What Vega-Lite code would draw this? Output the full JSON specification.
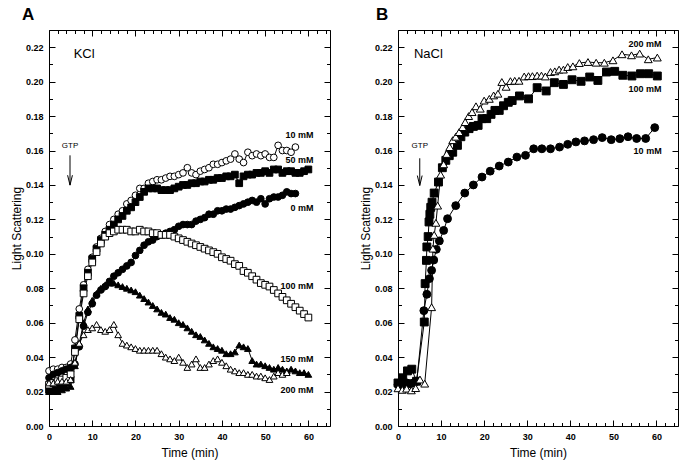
{
  "$schema": "https://vega.github.io/schema/vega-lite/v6.json",
  "background": "white",
  "padding": {"left": 9, "top": 5, "right": 5, "bottom": 5},
  "spacing": 68,
  "bounds": "flush",
  "resolve": {"scale": {"shape": "independent", "fill": "independent"}},
  "config": {
    "font": "Liberation Sans",
    "view": {"stroke": "black", "strokeWidth": 1},
    "axis": {
      "labelFont": "Liberation Sans", "labelFontSize": 9, "labelFontWeight": "bold", "labelColor": "black",
      "tickColor": "black", "tickWidth": 1, "domain": false, "grid": false,
      "titleFont": "Liberation Sans", "titleFontSize": 12, "titleFontWeight": "normal", "titleColor": "black",
      "labelFlush": false, "labelOverlap": false
    }
  },
  "datasets": {
    "kcl": [
      {"c":"10 mM","t":0,"v":0.032},{"c":"10 mM","t":1,"v":0.033},{"c":"10 mM","t":2,"v":0.033},{"c":"10 mM","t":3,"v":0.034},{"c":"10 mM","t":4,"v":0.034},{"c":"10 mM","t":5,"v":0.036},{"c":"10 mM","t":6,"v":0.050},{"c":"10 mM","t":7,"v":0.068},{"c":"10 mM","t":8,"v":0.082},{"c":"10 mM","t":9,"v":0.091},{"c":"10 mM","t":10,"v":0.098},{"c":"10 mM","t":11,"v":0.104},{"c":"10 mM","t":12,"v":0.109},{"c":"10 mM","t":13,"v":0.113},{"c":"10 mM","t":14,"v":0.117},{"c":"10 mM","t":15,"v":0.120},{"c":"10 mM","t":16,"v":0.123},{"c":"10 mM","t":17,"v":0.125},{"c":"10 mM","t":18,"v":0.129},{"c":"10 mM","t":19,"v":0.131},{"c":"10 mM","t":20,"v":0.134},{"c":"10 mM","t":21,"v":0.138},{"c":"10 mM","t":22,"v":0.138},{"c":"10 mM","t":23,"v":0.141},{"c":"10 mM","t":24,"v":0.142},{"c":"10 mM","t":25,"v":0.143},{"c":"10 mM","t":26,"v":0.143},{"c":"10 mM","t":27,"v":0.144},{"c":"10 mM","t":28,"v":0.145},{"c":"10 mM","t":29,"v":0.145},{"c":"10 mM","t":30,"v":0.146},{"c":"10 mM","t":31,"v":0.147},{"c":"10 mM","t":32,"v":0.150},{"c":"10 mM","t":33,"v":0.147},{"c":"10 mM","t":34,"v":0.146},{"c":"10 mM","t":35,"v":0.148},{"c":"10 mM","t":36,"v":0.149},{"c":"10 mM","t":37,"v":0.150},{"c":"10 mM","t":38,"v":0.152},{"c":"10 mM","t":39,"v":0.152},{"c":"10 mM","t":40,"v":0.153},{"c":"10 mM","t":41,"v":0.154},{"c":"10 mM","t":42,"v":0.155},{"c":"10 mM","t":43,"v":0.158},{"c":"10 mM","t":44,"v":0.155},{"c":"10 mM","t":45,"v":0.153},{"c":"10 mM","t":46,"v":0.159},{"c":"10 mM","t":47,"v":0.157},{"c":"10 mM","t":48,"v":0.158},{"c":"10 mM","t":49,"v":0.157},{"c":"10 mM","t":50,"v":0.158},{"c":"10 mM","t":51,"v":0.156},{"c":"10 mM","t":52,"v":0.156},{"c":"10 mM","t":53,"v":0.163},{"c":"10 mM","t":54,"v":0.160},{"c":"10 mM","t":55,"v":0.160},{"c":"10 mM","t":56,"v":0.159},{"c":"10 mM","t":57,"v":0.162},
      {"c":"50 mM","t":0,"v":0.021},{"c":"50 mM","t":1,"v":0.021},{"c":"50 mM","t":2,"v":0.022},{"c":"50 mM","t":3,"v":0.023},{"c":"50 mM","t":4,"v":0.025},{"c":"50 mM","t":5,"v":0.027},{"c":"50 mM","t":6,"v":0.045},{"c":"50 mM","t":7,"v":0.064},{"c":"50 mM","t":8,"v":0.080},{"c":"50 mM","t":9,"v":0.089},{"c":"50 mM","t":10,"v":0.097},{"c":"50 mM","t":11,"v":0.103},{"c":"50 mM","t":12,"v":0.108},{"c":"50 mM","t":13,"v":0.111},{"c":"50 mM","t":14,"v":0.114},{"c":"50 mM","t":15,"v":0.117},{"c":"50 mM","t":16,"v":0.120},{"c":"50 mM","t":17,"v":0.122},{"c":"50 mM","t":18,"v":0.125},{"c":"50 mM","t":19,"v":0.127},{"c":"50 mM","t":20,"v":0.130},{"c":"50 mM","t":21,"v":0.133},{"c":"50 mM","t":22,"v":0.136},{"c":"50 mM","t":23,"v":0.138},{"c":"50 mM","t":24,"v":0.138},{"c":"50 mM","t":25,"v":0.138},{"c":"50 mM","t":26,"v":0.137},{"c":"50 mM","t":27,"v":0.137},{"c":"50 mM","t":28,"v":0.137},{"c":"50 mM","t":29,"v":0.138},{"c":"50 mM","t":30,"v":0.139},{"c":"50 mM","t":31,"v":0.140},{"c":"50 mM","t":32,"v":0.140},{"c":"50 mM","t":33,"v":0.141},{"c":"50 mM","t":34,"v":0.141},{"c":"50 mM","t":35,"v":0.142},{"c":"50 mM","t":36,"v":0.142},{"c":"50 mM","t":37,"v":0.143},{"c":"50 mM","t":38,"v":0.143},{"c":"50 mM","t":39,"v":0.144},{"c":"50 mM","t":40,"v":0.144},{"c":"50 mM","t":41,"v":0.145},{"c":"50 mM","t":42,"v":0.145},{"c":"50 mM","t":43,"v":0.146},{"c":"50 mM","t":44,"v":0.141},{"c":"50 mM","t":45,"v":0.145},{"c":"50 mM","t":46,"v":0.146},{"c":"50 mM","t":47,"v":0.146},{"c":"50 mM","t":48,"v":0.147},{"c":"50 mM","t":49,"v":0.147},{"c":"50 mM","t":50,"v":0.148},{"c":"50 mM","t":51,"v":0.147},{"c":"50 mM","t":52,"v":0.149},{"c":"50 mM","t":53,"v":0.149},{"c":"50 mM","t":54,"v":0.147},{"c":"50 mM","t":55,"v":0.148},{"c":"50 mM","t":56,"v":0.148},{"c":"50 mM","t":57,"v":0.147},{"c":"50 mM","t":58,"v":0.147},{"c":"50 mM","t":59,"v":0.148},{"c":"50 mM","t":60,"v":0.149},
      {"c":"0 mM","t":0,"v":0.028},{"c":"0 mM","t":1,"v":0.030},{"c":"0 mM","t":2,"v":0.031},{"c":"0 mM","t":3,"v":0.032},{"c":"0 mM","t":4,"v":0.033},{"c":"0 mM","t":5,"v":0.034},{"c":"0 mM","t":6,"v":0.036},{"c":"0 mM","t":7,"v":0.046},{"c":"0 mM","t":8,"v":0.058},{"c":"0 mM","t":9,"v":0.066},{"c":"0 mM","t":10,"v":0.071},{"c":"0 mM","t":11,"v":0.076},{"c":"0 mM","t":12,"v":0.079},{"c":"0 mM","t":13,"v":0.081},{"c":"0 mM","t":14,"v":0.084},{"c":"0 mM","t":15,"v":0.087},{"c":"0 mM","t":16,"v":0.089},{"c":"0 mM","t":17,"v":0.091},{"c":"0 mM","t":18,"v":0.093},{"c":"0 mM","t":19,"v":0.095},{"c":"0 mM","t":20,"v":0.099},{"c":"0 mM","t":21,"v":0.102},{"c":"0 mM","t":22,"v":0.105},{"c":"0 mM","t":23,"v":0.107},{"c":"0 mM","t":24,"v":0.108},{"c":"0 mM","t":25,"v":0.110},{"c":"0 mM","t":26,"v":0.111},{"c":"0 mM","t":27,"v":0.112},{"c":"0 mM","t":28,"v":0.113},{"c":"0 mM","t":29,"v":0.114},{"c":"0 mM","t":30,"v":0.116},{"c":"0 mM","t":31,"v":0.117},{"c":"0 mM","t":32,"v":0.117},{"c":"0 mM","t":33,"v":0.117},{"c":"0 mM","t":34,"v":0.119},{"c":"0 mM","t":35,"v":0.120},{"c":"0 mM","t":36,"v":0.121},{"c":"0 mM","t":37,"v":0.123},{"c":"0 mM","t":38,"v":0.123},{"c":"0 mM","t":39,"v":0.125},{"c":"0 mM","t":40,"v":0.125},{"c":"0 mM","t":41,"v":0.126},{"c":"0 mM","t":42,"v":0.126},{"c":"0 mM","t":43,"v":0.127},{"c":"0 mM","t":44,"v":0.128},{"c":"0 mM","t":45,"v":0.129},{"c":"0 mM","t":46,"v":0.130},{"c":"0 mM","t":47,"v":0.131},{"c":"0 mM","t":48,"v":0.130},{"c":"0 mM","t":49,"v":0.132},{"c":"0 mM","t":50,"v":0.129},{"c":"0 mM","t":51,"v":0.132},{"c":"0 mM","t":52,"v":0.133},{"c":"0 mM","t":53,"v":0.133},{"c":"0 mM","t":54,"v":0.134},{"c":"0 mM","t":55,"v":0.136},{"c":"0 mM","t":56,"v":0.135},{"c":"0 mM","t":57,"v":0.135},
      {"c":"100 mM","t":0,"v":0.024},{"c":"100 mM","t":1,"v":0.025},{"c":"100 mM","t":2,"v":0.026},{"c":"100 mM","t":3,"v":0.027},{"c":"100 mM","t":4,"v":0.028},{"c":"100 mM","t":5,"v":0.030},{"c":"100 mM","t":6,"v":0.043},{"c":"100 mM","t":7,"v":0.062},{"c":"100 mM","t":8,"v":0.077},{"c":"100 mM","t":9,"v":0.087},{"c":"100 mM","t":10,"v":0.095},{"c":"100 mM","t":11,"v":0.101},{"c":"100 mM","t":12,"v":0.106},{"c":"100 mM","t":13,"v":0.110},{"c":"100 mM","t":14,"v":0.112},{"c":"100 mM","t":15,"v":0.113},{"c":"100 mM","t":16,"v":0.114},{"c":"100 mM","t":17,"v":0.114},{"c":"100 mM","t":18,"v":0.114},{"c":"100 mM","t":19,"v":0.113},{"c":"100 mM","t":20,"v":0.113},{"c":"100 mM","t":21,"v":0.114},{"c":"100 mM","t":22,"v":0.113},{"c":"100 mM","t":23,"v":0.113},{"c":"100 mM","t":24,"v":0.112},{"c":"100 mM","t":25,"v":0.112},{"c":"100 mM","t":26,"v":0.111},{"c":"100 mM","t":27,"v":0.111},{"c":"100 mM","t":28,"v":0.111},{"c":"100 mM","t":29,"v":0.110},{"c":"100 mM","t":30,"v":0.109},{"c":"100 mM","t":31,"v":0.108},{"c":"100 mM","t":32,"v":0.107},{"c":"100 mM","t":33,"v":0.106},{"c":"100 mM","t":34,"v":0.105},{"c":"100 mM","t":35,"v":0.104},{"c":"100 mM","t":36,"v":0.103},{"c":"100 mM","t":37,"v":0.102},{"c":"100 mM","t":38,"v":0.101},{"c":"100 mM","t":39,"v":0.100},{"c":"100 mM","t":40,"v":0.098},{"c":"100 mM","t":41,"v":0.097},{"c":"100 mM","t":42,"v":0.096},{"c":"100 mM","t":43,"v":0.094},{"c":"100 mM","t":44,"v":0.093},{"c":"100 mM","t":45,"v":0.090},{"c":"100 mM","t":46,"v":0.089},{"c":"100 mM","t":47,"v":0.087},{"c":"100 mM","t":48,"v":0.085},{"c":"100 mM","t":49,"v":0.083},{"c":"100 mM","t":50,"v":0.082},{"c":"100 mM","t":51,"v":0.081},{"c":"100 mM","t":52,"v":0.079},{"c":"100 mM","t":53,"v":0.077},{"c":"100 mM","t":54,"v":0.075},{"c":"100 mM","t":55,"v":0.073},{"c":"100 mM","t":56,"v":0.071},{"c":"100 mM","t":57,"v":0.069},{"c":"100 mM","t":58,"v":0.067},{"c":"100 mM","t":59,"v":0.065},{"c":"100 mM","t":60,"v":0.063},
      {"c":"150 mM","t":0,"v":0.020},{"c":"150 mM","t":1,"v":0.020},{"c":"150 mM","t":2,"v":0.020},{"c":"150 mM","t":3,"v":0.021},{"c":"150 mM","t":4,"v":0.022},{"c":"150 mM","t":5,"v":0.023},{"c":"150 mM","t":6,"v":0.035},{"c":"150 mM","t":7,"v":0.048},{"c":"150 mM","t":8,"v":0.060},{"c":"150 mM","t":9,"v":0.068},{"c":"150 mM","t":10,"v":0.073},{"c":"150 mM","t":11,"v":0.077},{"c":"150 mM","t":12,"v":0.080},{"c":"150 mM","t":13,"v":0.082},{"c":"150 mM","t":14,"v":0.083},{"c":"150 mM","t":15,"v":0.083},{"c":"150 mM","t":16,"v":0.082},{"c":"150 mM","t":17,"v":0.081},{"c":"150 mM","t":18,"v":0.080},{"c":"150 mM","t":19,"v":0.079},{"c":"150 mM","t":20,"v":0.078},{"c":"150 mM","t":21,"v":0.076},{"c":"150 mM","t":22,"v":0.074},{"c":"150 mM","t":23,"v":0.072},{"c":"150 mM","t":24,"v":0.070},{"c":"150 mM","t":25,"v":0.068},{"c":"150 mM","t":26,"v":0.066},{"c":"150 mM","t":27,"v":0.065},{"c":"150 mM","t":28,"v":0.063},{"c":"150 mM","t":29,"v":0.062},{"c":"150 mM","t":30,"v":0.060},{"c":"150 mM","t":31,"v":0.059},{"c":"150 mM","t":32,"v":0.057},{"c":"150 mM","t":33,"v":0.055},{"c":"150 mM","t":34,"v":0.053},{"c":"150 mM","t":35,"v":0.052},{"c":"150 mM","t":36,"v":0.050},{"c":"150 mM","t":37,"v":0.048},{"c":"150 mM","t":38,"v":0.046},{"c":"150 mM","t":39,"v":0.045},{"c":"150 mM","t":40,"v":0.044},{"c":"150 mM","t":41,"v":0.042},{"c":"150 mM","t":42,"v":0.042},{"c":"150 mM","t":43,"v":0.043},{"c":"150 mM","t":44,"v":0.047},{"c":"150 mM","t":45,"v":0.046},{"c":"150 mM","t":46,"v":0.045},{"c":"150 mM","t":47,"v":0.038},{"c":"150 mM","t":48,"v":0.036},{"c":"150 mM","t":49,"v":0.036},{"c":"150 mM","t":50,"v":0.035},{"c":"150 mM","t":51,"v":0.034},{"c":"150 mM","t":52,"v":0.033},{"c":"150 mM","t":53,"v":0.034},{"c":"150 mM","t":54,"v":0.033},{"c":"150 mM","t":55,"v":0.032},{"c":"150 mM","t":56,"v":0.033},{"c":"150 mM","t":57,"v":0.032},{"c":"150 mM","t":58,"v":0.031},{"c":"150 mM","t":59,"v":0.031},{"c":"150 mM","t":60,"v":0.030},
      {"c":"200 mM","t":0,"v":0.025},{"c":"200 mM","t":1,"v":0.025},{"c":"200 mM","t":2,"v":0.026},{"c":"200 mM","t":3,"v":0.026},{"c":"200 mM","t":4,"v":0.026},{"c":"200 mM","t":5,"v":0.027},{"c":"200 mM","t":6,"v":0.037},{"c":"200 mM","t":7,"v":0.048},{"c":"200 mM","t":8,"v":0.053},{"c":"200 mM","t":9,"v":0.056},{"c":"200 mM","t":10,"v":0.057},{"c":"200 mM","t":11,"v":0.059},{"c":"200 mM","t":12,"v":0.056},{"c":"200 mM","t":13,"v":0.055},{"c":"200 mM","t":14,"v":0.056},{"c":"200 mM","t":15,"v":0.059},{"c":"200 mM","t":16,"v":0.053},{"c":"200 mM","t":17,"v":0.048},{"c":"200 mM","t":18,"v":0.047},{"c":"200 mM","t":19,"v":0.046},{"c":"200 mM","t":20,"v":0.045},{"c":"200 mM","t":21,"v":0.044},{"c":"200 mM","t":22,"v":0.044},{"c":"200 mM","t":23,"v":0.044},{"c":"200 mM","t":24,"v":0.044},{"c":"200 mM","t":25,"v":0.044},{"c":"200 mM","t":26,"v":0.042},{"c":"200 mM","t":27,"v":0.040},{"c":"200 mM","t":28,"v":0.039},{"c":"200 mM","t":29,"v":0.038},{"c":"200 mM","t":30,"v":0.040},{"c":"200 mM","t":31,"v":0.037},{"c":"200 mM","t":32,"v":0.034},{"c":"200 mM","t":33,"v":0.036},{"c":"200 mM","t":34,"v":0.039},{"c":"200 mM","t":35,"v":0.034},{"c":"200 mM","t":36,"v":0.034},{"c":"200 mM","t":37,"v":0.036},{"c":"200 mM","t":38,"v":0.038},{"c":"200 mM","t":39,"v":0.039},{"c":"200 mM","t":40,"v":0.037},{"c":"200 mM","t":41,"v":0.035},{"c":"200 mM","t":42,"v":0.033},{"c":"200 mM","t":43,"v":0.032},{"c":"200 mM","t":44,"v":0.031},{"c":"200 mM","t":45,"v":0.031},{"c":"200 mM","t":46,"v":0.030},{"c":"200 mM","t":47,"v":0.030},{"c":"200 mM","t":48,"v":0.029},{"c":"200 mM","t":49,"v":0.029},{"c":"200 mM","t":50,"v":0.028},{"c":"200 mM","t":51,"v":0.027},{"c":"200 mM","t":52,"v":0.029},{"c":"200 mM","t":53,"v":0.031},{"c":"200 mM","t":54,"v":0.030},{"c":"200 mM","t":55,"v":0.031}
    ],
    "nacl": [
      {"c":"10 mM","t":0,"v":0.024},{"c":"10 mM","t":0.7,"v":0.024},{"c":"10 mM","t":1.4,"v":0.0245},{"c":"10 mM","t":2.1,"v":0.025},{"c":"10 mM","t":2.8,"v":0.0245},{"c":"10 mM","t":3.5,"v":0.025},{"c":"10 mM","t":4.35,"v":0.026},{"c":"10 mM","t":6.0,"v":0.067},{"c":"10 mM","t":6.7,"v":0.0765},{"c":"10 mM","t":7.3,"v":0.0856},{"c":"10 mM","t":7.8,"v":0.0904},{"c":"10 mM","t":8.3,"v":0.0964},{"c":"10 mM","t":8.9,"v":0.1026},{"c":"10 mM","t":9.6,"v":0.1075},{"c":"10 mM","t":10.6,"v":0.1136},{"c":"10 mM","t":11.5,"v":0.1204},{"c":"10 mM","t":13.4,"v":0.128},{"c":"10 mM","t":15.5,"v":0.1353},{"c":"10 mM","t":17.5,"v":0.140},{"c":"10 mM","t":19.5,"v":0.1446},{"c":"10 mM","t":21.4,"v":0.148},{"c":"10 mM","t":23.5,"v":0.151},{"c":"10 mM","t":25.6,"v":0.1533},{"c":"10 mM","t":27.6,"v":0.1562},{"c":"10 mM","t":29.6,"v":0.1572},{"c":"10 mM","t":31.5,"v":0.161},{"c":"10 mM","t":33.4,"v":0.161},{"c":"10 mM","t":35.4,"v":0.161},{"c":"10 mM","t":37.5,"v":0.162},{"c":"10 mM","t":39.4,"v":0.1636},{"c":"10 mM","t":41.3,"v":0.165},{"c":"10 mM","t":43.3,"v":0.1656},{"c":"10 mM","t":45.4,"v":0.1663},{"c":"10 mM","t":47.4,"v":0.1675},{"c":"10 mM","t":49.5,"v":0.1663},{"c":"10 mM","t":51.5,"v":0.1669},{"c":"10 mM","t":53.4,"v":0.168},{"c":"10 mM","t":55.4,"v":0.167},{"c":"10 mM","t":57.5,"v":0.167},{"c":"10 mM","t":59.6,"v":0.1733},
      {"c":"100 mM","t":0,"v":0.025},{"c":"100 mM","t":1.1,"v":0.028},{"c":"100 mM","t":2.2,"v":0.032},{"c":"100 mM","t":3.2,"v":0.033},{"c":"100 mM","t":4.3,"v":0.026},{"c":"100 mM","t":6.1,"v":0.0604},{"c":"100 mM","t":6.3,"v":0.0827},{"c":"100 mM","t":6.6,"v":0.0962},{"c":"100 mM","t":6.7,"v":0.104},{"c":"100 mM","t":7.0,"v":0.110},{"c":"100 mM","t":7.2,"v":0.1185},{"c":"100 mM","t":7.4,"v":0.123},{"c":"100 mM","t":7.6,"v":0.127},{"c":"100 mM","t":7.9,"v":0.130},{"c":"100 mM","t":8.4,"v":0.1353},{"c":"100 mM","t":9.4,"v":0.1417},{"c":"100 mM","t":10.3,"v":0.150},{"c":"100 mM","t":11.1,"v":0.1543},{"c":"100 mM","t":11.9,"v":0.157},{"c":"100 mM","t":12.7,"v":0.159},{"c":"100 mM","t":13.8,"v":0.163},{"c":"100 mM","t":14.6,"v":0.168},{"c":"100 mM","t":15.5,"v":0.1707},{"c":"100 mM","t":16.5,"v":0.1727},{"c":"100 mM","t":17.5,"v":0.174},{"c":"100 mM","t":18.6,"v":0.1746},{"c":"100 mM","t":19.5,"v":0.1785},{"c":"100 mM","t":20.6,"v":0.1785},{"c":"100 mM","t":21.6,"v":0.181},{"c":"100 mM","t":22.5,"v":0.1833},{"c":"100 mM","t":23.5,"v":0.1833},{"c":"100 mM","t":24.5,"v":0.186},{"c":"100 mM","t":25.6,"v":0.188},{"c":"100 mM","t":26.5,"v":0.189},{"c":"100 mM","t":28.2,"v":0.1917},{"c":"100 mM","t":30.3,"v":0.190},{"c":"100 mM","t":32.3,"v":0.1965},{"c":"100 mM","t":34.4,"v":0.1946},{"c":"100 mM","t":36.3,"v":0.1994},{"c":"100 mM","t":38.4,"v":0.1984},{"c":"100 mM","t":40.4,"v":0.2011},{"c":"100 mM","t":42.5,"v":0.2002},{"c":"100 mM","t":44.5,"v":0.2027},{"c":"100 mM","t":46.4,"v":0.2007},{"c":"100 mM","t":48.4,"v":0.2056},{"c":"100 mM","t":50.3,"v":0.206},{"c":"100 mM","t":52.2,"v":0.2037},{"c":"100 mM","t":54.3,"v":0.2033},{"c":"100 mM","t":56.3,"v":0.2046},{"c":"100 mM","t":58.2,"v":0.2046},{"c":"100 mM","t":60.2,"v":0.2033},
      {"c":"200 mM","t":0,"v":0.0219},{"c":"200 mM","t":1.0,"v":0.021},{"c":"200 mM","t":2.0,"v":0.0217},{"c":"200 mM","t":3.1,"v":0.0207},{"c":"200 mM","t":4.1,"v":0.022},{"c":"200 mM","t":5.1,"v":0.027},{"c":"200 mM","t":6.2,"v":0.0246},{"c":"200 mM","t":7.8,"v":0.069},{"c":"200 mM","t":8.1,"v":0.103},{"c":"200 mM","t":8.4,"v":0.111},{"c":"200 mM","t":8.8,"v":0.118},{"c":"200 mM","t":9.2,"v":0.128},{"c":"200 mM","t":9.9,"v":0.146},{"c":"200 mM","t":10.6,"v":0.152},{"c":"200 mM","t":11.3,"v":0.158},{"c":"200 mM","t":12.0,"v":0.162},{"c":"200 mM","t":12.7,"v":0.166},{"c":"200 mM","t":13.4,"v":0.168},{"c":"200 mM","t":14.2,"v":0.1707},{"c":"200 mM","t":15.0,"v":0.1736},{"c":"200 mM","t":15.6,"v":0.1765},{"c":"200 mM","t":16.4,"v":0.180},{"c":"200 mM","t":17.2,"v":0.1823},{"c":"200 mM","t":18.1,"v":0.1857},{"c":"200 mM","t":19.1,"v":0.1843},{"c":"200 mM","t":20.0,"v":0.189},{"c":"200 mM","t":21.2,"v":0.190},{"c":"200 mM","t":22.2,"v":0.192},{"c":"200 mM","t":23.2,"v":0.193},{"c":"200 mM","t":24.1,"v":0.1998},{"c":"200 mM","t":25.1,"v":0.197},{"c":"200 mM","t":26.1,"v":0.2003},{"c":"200 mM","t":27.1,"v":0.2005},{"c":"200 mM","t":28.1,"v":0.2005},{"c":"200 mM","t":29.3,"v":0.203},{"c":"200 mM","t":30.3,"v":0.2032},{"c":"200 mM","t":31.2,"v":0.2032},{"c":"200 mM","t":32.3,"v":0.2035},{"c":"200 mM","t":33.3,"v":0.2035},{"c":"200 mM","t":34.2,"v":0.203},{"c":"200 mM","t":35.4,"v":0.2056},{"c":"200 mM","t":36.4,"v":0.206},{"c":"200 mM","t":37.4,"v":0.207},{"c":"200 mM","t":38.4,"v":0.207},{"c":"200 mM","t":39.4,"v":0.2085},{"c":"200 mM","t":40.6,"v":0.2089},{"c":"200 mM","t":42.1,"v":0.2108},{"c":"200 mM","t":44.1,"v":0.2114},{"c":"200 mM","t":46.0,"v":0.211},{"c":"200 mM","t":47.9,"v":0.211},{"c":"200 mM","t":49.9,"v":0.2124},{"c":"200 mM","t":52.0,"v":0.2159},{"c":"200 mM","t":54.2,"v":0.2153},{"c":"200 mM","t":56.1,"v":0.2163},{"c":"200 mM","t":58.1,"v":0.213},{"c":"200 mM","t":60.2,"v":0.214}
    ],
    "kclLabels": [
      {"label":"10 mM","t":61.2,"v":0.1688},{"label":"50 mM","t":61.2,"v":0.1543},{"label":"0 mM","t":61.2,"v":0.1268},{"label":"100 mM","t":61.2,"v":0.0813},{"label":"150 mM","t":61.2,"v":0.0387},{"label":"200 mM","t":61.2,"v":0.0207}
    ],
    "naclLabels": [
      {"label":"200 mM","t":61.2,"v":0.222},{"label":"100 mM","t":61.2,"v":0.196},{"label":"10 mM","t":61.2,"v":0.1597}
    ],
    "kclSalt": [{"label":"KCl","t":5.7,"v":0.2159}],
    "naclSalt": [{"label":"NaCl","t":3.7,"v":0.2163}],
    "kclGtp": [{"label":"GTP","t":4.86,"v":0.1626,"v1":0.1572,"v2":0.1399}],
    "naclGtp": [{"label":"GTP","t":5.05,"v":0.1624,"v1":0.1555,"v2":0.1397}]
  },
  "hconcat": [
    {
      "width": 281, "height": 396,
      "title": {"text": "A", "anchor": "start", "frame": "group", "dx": -27, "fontSize": 17, "fontWeight": "bold", "font": "Liberation Sans", "offset": -7, "baseline": "alphabetic", "color": "black"},
      "resolve": {"axis": {"x": "independent", "y": "independent"}},
      "layer": [
        {
          "data": {"name": "kcl"},
          "mark": {"type": "line", "color": "black", "strokeWidth": 1},
          "encoding": {
            "x": {"field": "t", "type": "quantitative", "scale": {"domain": [0, 65], "nice": false, "zero": false},
              "axis": {"orient": "bottom", "values": [0,10,20,30,40,50,60], "ticks": false, "labelPadding": 6, "title": "Time (min)", "titlePadding": 6}},
            "y": {"field": "v", "type": "quantitative", "scale": {"domain": [0, 0.23], "nice": false},
              "axis": {"orient": "left", "values": [0,0.02,0.04,0.06,0.08,0.1,0.12,0.14,0.16,0.18,0.2,0.22], "format": ".2f", "ticks": false, "labelPadding": 6, "title": "Light Scattering", "titlePadding": 2}},
            "detail": {"field": "c"}
          }
        },
        {
          "data": {"name": "kcl"},
          "mark": {"type": "point", "stroke": "black", "strokeWidth": 1, "opacity": 1, "fillOpacity": 1, "size": 45},
          "encoding": {
            "x": {"field": "t", "type": "quantitative",
              "axis": {"orient": "top", "offset": -396, "values": [0,2,4,6,8,10,12,14,16,18,20,22,24,26,28,30,32,34,36,38,40,42,44,46,48,50,52,54,56,58,60,62,64],
                "labels": false, "title": null,
                "tickSize": {"condition": {"test": "datum.value % 10 === 0", "value": 6}, "value": 3.5}}},
            "y": {"field": "v", "type": "quantitative",
              "axis": {"orient": "right", "offset": -281, "values": [0,0.01,0.02,0.03,0.04,0.05,0.06,0.07,0.08,0.09,0.1,0.11,0.12,0.13,0.14,0.15,0.16,0.17,0.18,0.19,0.2,0.21,0.22,0.23],
                "labels": false, "title": null,
                "tickSize": {"condition": {"test": "round(datum.value*100) % 2 === 0", "value": 6}, "value": 3.5}}},
            "shape": {"field": "c", "type": "nominal", "legend": null,
              "scale": {"domain": ["0 mM","10 mM","50 mM","100 mM","150 mM","200 mM"], "range": ["circle","circle","square","square","triangle-up","triangle-up"]}},
            "fill": {"field": "c", "type": "nominal", "legend": null,
              "scale": {"domain": ["0 mM","10 mM","50 mM","100 mM","150 mM","200 mM"], "range": ["black","white","black","white","black","white"]}}
          }
        },
        {
          "data": {"name": "kclLabels"},
          "mark": {"type": "text", "align": "right", "baseline": "middle", "fontSize": 9, "fontWeight": "bold", "font": "Liberation Sans", "color": "black"},
          "encoding": {
            "x": {"field": "t", "type": "quantitative",
              "axis": {"orient": "bottom", "offset": -396, "values": [0,2,4,6,8,10,12,14,16,18,20,22,24,26,28,30,32,34,36,38,40,42,44,46,48,50,52,54,56,58,60,62,64],
                "labels": false, "title": null,
                "tickSize": {"condition": {"test": "datum.value % 10 === 0", "value": 6}, "value": 3.5}}},
            "y": {"field": "v", "type": "quantitative",
              "axis": {"orient": "left", "offset": -281, "values": [0,0.01,0.02,0.03,0.04,0.05,0.06,0.07,0.08,0.09,0.1,0.11,0.12,0.13,0.14,0.15,0.16,0.17,0.18,0.19,0.2,0.21,0.22,0.23],
                "labels": false, "title": null,
                "tickSize": {"condition": {"test": "round(datum.value*100) % 2 === 0", "value": 6}, "value": 3.5}}},
            "text": {"field": "label"}
          }
        },
        {
          "data": {"name": "kclSalt"},
          "mark": {"type": "text", "align": "left", "baseline": "middle", "fontSize": 13, "font": "Liberation Sans", "color": "black"},
          "encoding": {
            "x": {"field": "t", "type": "quantitative", "axis": null},
            "y": {"field": "v", "type": "quantitative", "axis": null},
            "text": {"field": "label"}
          }
        },
        {
          "data": {"name": "kclGtp"},
          "mark": {"type": "text", "align": "center", "baseline": "middle", "fontSize": 8, "font": "Liberation Sans", "color": "black"},
          "encoding": {
            "x": {"field": "t", "type": "quantitative", "axis": null},
            "y": {"field": "v", "type": "quantitative", "axis": null},
            "text": {"field": "label"}
          }
        },
        {
          "data": {"name": "kclGtp"},
          "mark": {"type": "rule", "color": "black", "strokeWidth": 1},
          "encoding": {
            "x": {"field": "t", "type": "quantitative", "axis": null},
            "y": {"field": "v1", "type": "quantitative", "axis": null},
            "y2": {"field": "v2"}
          }
        },
        {
          "data": {"name": "kclGtp"},
          "mark": {"type": "point", "shape": "M-0.8,-3.3L0,0L0.8,-3.3", "size": 36, "filled": false, "stroke": "black", "strokeWidth": 1, "opacity": 1},
          "encoding": {
            "x": {"field": "t", "type": "quantitative", "axis": null},
            "y": {"field": "v2", "type": "quantitative", "axis": null}
          }
        }
      ]
    },
    {
      "width": 280, "height": 396,
      "title": {"text": "B", "anchor": "start", "frame": "group", "dx": -22, "fontSize": 17, "fontWeight": "bold", "font": "Liberation Sans", "offset": -7, "baseline": "alphabetic", "color": "black"},
      "resolve": {"axis": {"x": "independent", "y": "independent"}},
      "layer": [
        {
          "data": {"name": "nacl"},
          "mark": {"type": "line", "color": "black", "strokeWidth": 1},
          "encoding": {
            "x": {"field": "t", "type": "quantitative", "scale": {"domain": [0, 65], "nice": false, "zero": false},
              "axis": {"orient": "bottom", "values": [0,10,20,30,40,50,60], "ticks": false, "labelPadding": 6, "title": "Time (min)", "titlePadding": 6}},
            "y": {"field": "v", "type": "quantitative", "scale": {"domain": [0, 0.23], "nice": false},
              "axis": {"orient": "left", "values": [0,0.02,0.04,0.06,0.08,0.1,0.12,0.14,0.16,0.18,0.2,0.22], "format": ".2f", "ticks": false, "labelPadding": 6, "title": "Light Scattering", "titlePadding": 2}},
            "detail": {"field": "c"}
          }
        },
        {
          "data": {"name": "nacl"},
          "mark": {"type": "point", "stroke": "black", "strokeWidth": 1, "opacity": 1, "fillOpacity": 1, "size": 62},
          "encoding": {
            "x": {"field": "t", "type": "quantitative",
              "axis": {"orient": "top", "offset": -396, "values": [0,2,4,6,8,10,12,14,16,18,20,22,24,26,28,30,32,34,36,38,40,42,44,46,48,50,52,54,56,58,60,62,64],
                "labels": false, "title": null,
                "tickSize": {"condition": {"test": "datum.value % 10 === 0", "value": 6}, "value": 3.5}}},
            "y": {"field": "v", "type": "quantitative",
              "axis": {"orient": "right", "offset": -280, "values": [0,0.01,0.02,0.03,0.04,0.05,0.06,0.07,0.08,0.09,0.1,0.11,0.12,0.13,0.14,0.15,0.16,0.17,0.18,0.19,0.2,0.21,0.22,0.23],
                "labels": false, "title": null,
                "tickSize": {"condition": {"test": "round(datum.value*100) % 2 === 0", "value": 6}, "value": 3.5}}},
            "shape": {"field": "c", "type": "nominal", "legend": null,
              "scale": {"domain": ["10 mM","100 mM","200 mM"], "range": ["circle","square","triangle-up"]}},
            "fill": {"field": "c", "type": "nominal", "legend": null,
              "scale": {"domain": ["10 mM","100 mM","200 mM"], "range": ["black","black","white"]}}
          }
        },
        {
          "data": {"name": "naclLabels"},
          "mark": {"type": "text", "align": "right", "baseline": "middle", "fontSize": 9, "fontWeight": "bold", "font": "Liberation Sans", "color": "black"},
          "encoding": {
            "x": {"field": "t", "type": "quantitative",
              "axis": {"orient": "bottom", "offset": -396, "values": [0,2,4,6,8,10,12,14,16,18,20,22,24,26,28,30,32,34,36,38,40,42,44,46,48,50,52,54,56,58,60,62,64],
                "labels": false, "title": null,
                "tickSize": {"condition": {"test": "datum.value % 10 === 0", "value": 6}, "value": 3.5}}},
            "y": {"field": "v", "type": "quantitative",
              "axis": {"orient": "left", "offset": -280, "values": [0,0.01,0.02,0.03,0.04,0.05,0.06,0.07,0.08,0.09,0.1,0.11,0.12,0.13,0.14,0.15,0.16,0.17,0.18,0.19,0.2,0.21,0.22,0.23],
                "labels": false, "title": null,
                "tickSize": {"condition": {"test": "round(datum.value*100) % 2 === 0", "value": 6}, "value": 3.5}}},
            "text": {"field": "label"}
          }
        },
        {
          "data": {"name": "naclSalt"},
          "mark": {"type": "text", "align": "left", "baseline": "middle", "fontSize": 13, "font": "Liberation Sans", "color": "black"},
          "encoding": {
            "x": {"field": "t", "type": "quantitative", "axis": null},
            "y": {"field": "v", "type": "quantitative", "axis": null},
            "text": {"field": "label"}
          }
        },
        {
          "data": {"name": "naclGtp"},
          "mark": {"type": "text", "align": "center", "baseline": "middle", "fontSize": 8, "font": "Liberation Sans", "color": "black"},
          "encoding": {
            "x": {"field": "t", "type": "quantitative", "axis": null},
            "y": {"field": "v", "type": "quantitative", "axis": null},
            "text": {"field": "label"}
          }
        },
        {
          "data": {"name": "naclGtp"},
          "mark": {"type": "rule", "color": "black", "strokeWidth": 1},
          "encoding": {
            "x": {"field": "t", "type": "quantitative", "axis": null},
            "y": {"field": "v1", "type": "quantitative", "axis": null},
            "y2": {"field": "v2"}
          }
        },
        {
          "data": {"name": "naclGtp"},
          "mark": {"type": "point", "shape": "M-0.8,-3.3L0,0L0.8,-3.3", "size": 36, "filled": false, "stroke": "black", "strokeWidth": 1, "opacity": 1},
          "encoding": {
            "x": {"field": "t", "type": "quantitative", "axis": null},
            "y": {"field": "v2", "type": "quantitative", "axis": null}
          }
        }
      ]
    }
  ]
}
